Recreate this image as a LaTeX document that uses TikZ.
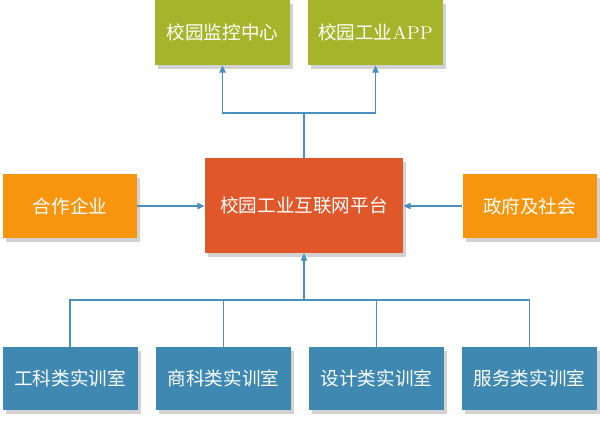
\documentclass[tikz,border=0pt]{standalone}
\usepackage{fontspec}
\newfontfamily\cjk{Noto Sans CJK SC}
\usepackage{tikz}
\usetikzlibrary{arrows.meta,shadows}
\definecolor{olivebox}{HTML}{A4B52B}
\definecolor{orangebox}{HTML}{F7950E}
\definecolor{redbox}{HTML}{E0572A}
\definecolor{bluebox}{HTML}{3E88B1}
\definecolor{linkblue}{HTML}{4A90BE}
\definecolor{shadowgray}{HTML}{D2D2D2}
\tikzset{
	box/.style={rectangle, text=white, inner sep=0pt,
		font=\cjk\fontsize{9.3}{11}\selectfont,
		minimum width=67.5pt, minimum height=32.5pt,
		drop shadow={shadow xshift=1.5pt, shadow yshift=-2pt, fill=shadowgray, opacity=1}},
	topbox/.style={box, fill=olivebox},
	sidebox/.style={box, fill=orangebox, minimum width=67pt, minimum height=32pt},
	mainbox/.style={box, fill=redbox, minimum width=99pt, minimum height=47.5pt},
	labbox/.style={box, fill=bluebox, minimum height=31.5pt},
	link/.style={draw=linkblue, line width=0.6pt},
	linkarrow/.style={link, -{Triangle[width=3.2pt,length=3.6pt]}},
}

\begin{document}
\begin{tikzpicture}[x=0.5pt, y=-0.5pt]
	\useasboundingbox (0,0) rectangle (600,423);
	\node[topbox] (monitor) at (222.5,32.5) {校园监控中心};
	\node[topbox] (app) at (375.5,32.5) {校园工业{\rmfamily APP}};
	\node[mainbox] (platform) at (304,205.5) {校园工业互联网平台};
	\node[sidebox] (firm) at (70,206) {合作企业};
	\node[sidebox] (gov) at (529.5,206) {政府及社会};
	\node[labbox] (lab1) at (70,378.5) {工科类实训室};
	\node[labbox] (lab2) at (223.5,378.5) {商科类实训室};
	\node[labbox] (lab3) at (376.5,378.5) {设计类实训室};
	\node[labbox] (lab4) at (529.5,378.5) {服务类实训室};
	\coordinate (topjoin) at (304,113);
	\coordinate (botjoin) at (304,300);
	% upward to the two services
	\draw[link] (platform.north) -- (topjoin);
	\draw[linkarrow] (topjoin) -| (monitor.south);
	\draw[linkarrow] (topjoin) -| (app.south);
	% partners
	\draw[linkarrow] (firm.east) -- (firm.east -| platform.west);
	\draw[linkarrow] (gov.west) -- (gov.west -| platform.east);
	% training rooms
	\foreach \lab in {lab1,lab2,lab3,lab4}
		\draw[link] (\lab.north) |- (botjoin);
	\draw[linkarrow] (botjoin) -- (platform.south);
\end{tikzpicture}
\end{document}
